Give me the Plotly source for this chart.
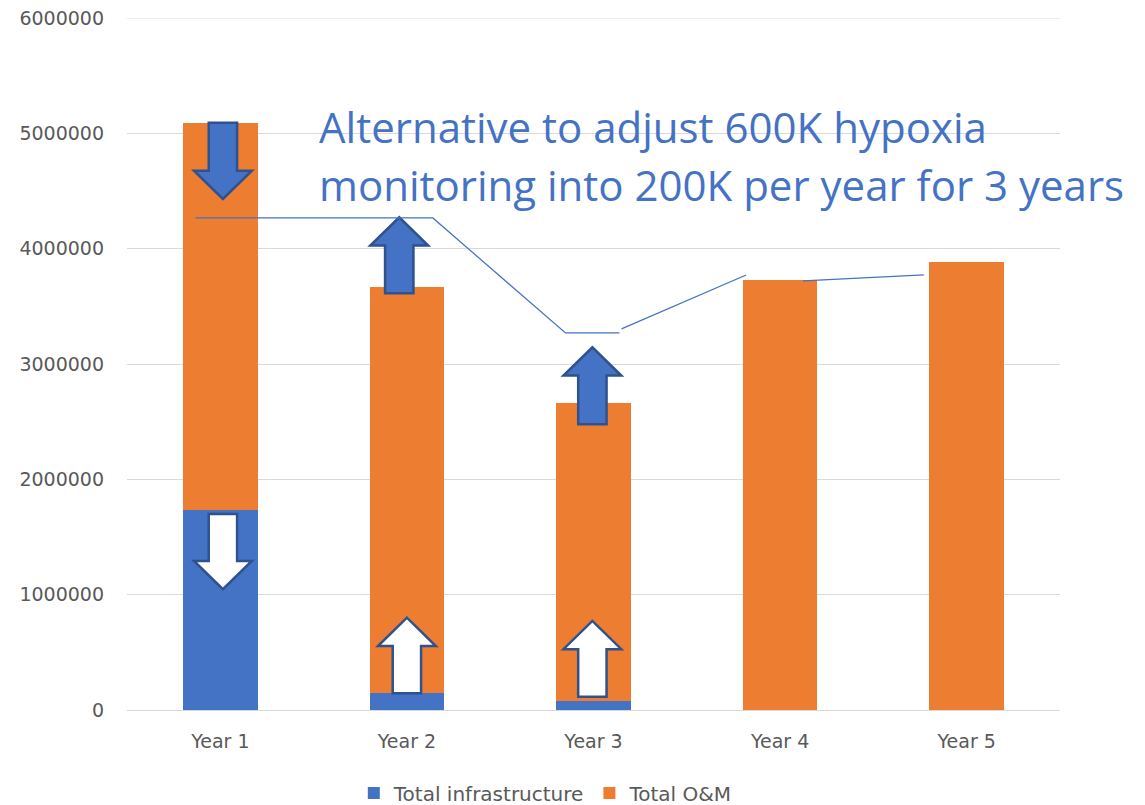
import plotly.graph_objects as go

# ─── Data ─────────────────────────────────────────────────────────────────────
years = ["Year 1", "Year 2", "Year 3", "Year 4", "Year 5"]
infrastructure = [1737000, 150000, 78000, 0, 0]
o_and_m = [3349000, 3515000, 2581000, 3726000, 3882000]
y_ticks = [0, 1000000, 2000000, 3000000, 4000000, 5000000, 6000000]

BLUE = "#4472C4"
ORANGE = "#ED7D31"
OUTLINE = "#2F528F"
GRID = "#D9D9D9"
TEXT = "#595959"

# block arrows: (x index, tail y, tip y, fill)
ARROWS = [
    (0.014, 5092000, 4431000, BLUE),
    (0.014, 1699000, 1047000, "white"),
    (0.959, 3613000, 4272000, BLUE),
    (1.000, 145000, 800000, "white"),
    (1.994, 2477000, 3145000, BLUE),
    (1.994, 115000, 772000, "white"),
]

# guide line drawn over the chart (x index, y)
GUIDE_1 = [(-0.134, 4266000), (1.139, 4266000), (1.850, 3269000), (2.139, 3269000)]
GUIDE_2 = [(2.150, 3304000), (2.818, 3772000)]
GUIDE_3 = [(3.123, 3720000), (3.770, 3772000)]


def arrow_path(xc, y_tail, y_tip, shaft=0.076, head=0.155, head_len=245000):
    d = 1 if y_tip > y_tail else -1
    yb = y_tip - d * head_len
    pts = [(xc - shaft, y_tail), (xc - shaft, yb), (xc - head, yb), (xc, y_tip),
           (xc + head, yb), (xc + shaft, yb), (xc + shaft, y_tail)]
    return "M " + " L ".join(f"{x},{y}" for x, y in pts) + " Z"


def line_path(pts):
    return "M " + " L ".join(f"{x},{y}" for x, y in pts)


fig = go.Figure()
fig.add_trace(go.Bar(x=years, y=infrastructure, name="Total infrastructure",
                     marker=dict(color=BLUE, line=dict(width=0))))
fig.add_trace(go.Bar(x=years, y=o_and_m, name="Total O&M",
                     marker=dict(color=ORANGE, line=dict(width=0))))

# top gridline sits on the plot edge, plotly skips it
shapes = [dict(type="line", xref="paper", yref="y", x0=0, x1=1,
               y0=y_ticks[-1], y1=y_ticks[-1], line=dict(color=GRID, width=1), layer="below")]
for xc, yt, yp, fill in ARROWS:
    shapes.append(dict(type="path", xref="x2", yref="y", path=arrow_path(xc, yt, yp),
                       fillcolor=fill, line=dict(color=OUTLINE, width=2.5), layer="above"))
for g in (GUIDE_1, GUIDE_2, GUIDE_3):
    shapes.append(dict(type="path", xref="x2", yref="y", path=line_path(g),
                       line=dict(color=BLUE, width=1.25), layer="above"))

big_font = dict(family="Open Sans, sans-serif", size=42, color=BLUE)
annotations = [
    dict(text="Alternative to adjust 600K hypoxia", xref="paper", yref="paper",
         x=0.2036, y=0.843, xanchor="left", yanchor="middle", showarrow=False, font=big_font),
    dict(text="monitoring into 200K per year for 3 years", xref="paper", yref="paper",
         x=0.2036, y=0.759, xanchor="left", yanchor="middle", showarrow=False, font=big_font),
]

# page body adds an 8px offset, so the figure is sized to fit the window
fig.update_layout(
    width=1137, height=797,
    margin=dict(l=119, r=85, t=10, b=95, autoexpand=False),
    paper_bgcolor="white", plot_bgcolor="white",
    barmode="stack", bargap=0.6,
    font=dict(family="DejaVu Sans, sans-serif", size=19, color=TEXT),
    shapes=shapes, annotations=annotations,
    showlegend=True,
    legend=dict(orientation="h", xref="container", yref="container",
                x=0.473, y=0.0151, xanchor="center", yanchor="middle",
                font=dict(size=20, color=TEXT), traceorder="normal"),
    xaxis=dict(showgrid=False, showline=True, linecolor=GRID, linewidth=1,
               ticks="", ticklabelstandoff=14, automargin=False),
    xaxis2=dict(overlaying="x", range=[-0.5, 4.5], visible=False),
    yaxis=dict(range=[0, 6000000], tickvals=y_ticks, ticktext=[str(v) for v in y_ticks],
               showgrid=True, gridcolor=GRID, gridwidth=1, zeroline=False,
               showline=False, ticks="", ticklabelstandoff=22, automargin=False,
               ticklabeloverflow="allow"),
)

fig.write_html("out.html")
